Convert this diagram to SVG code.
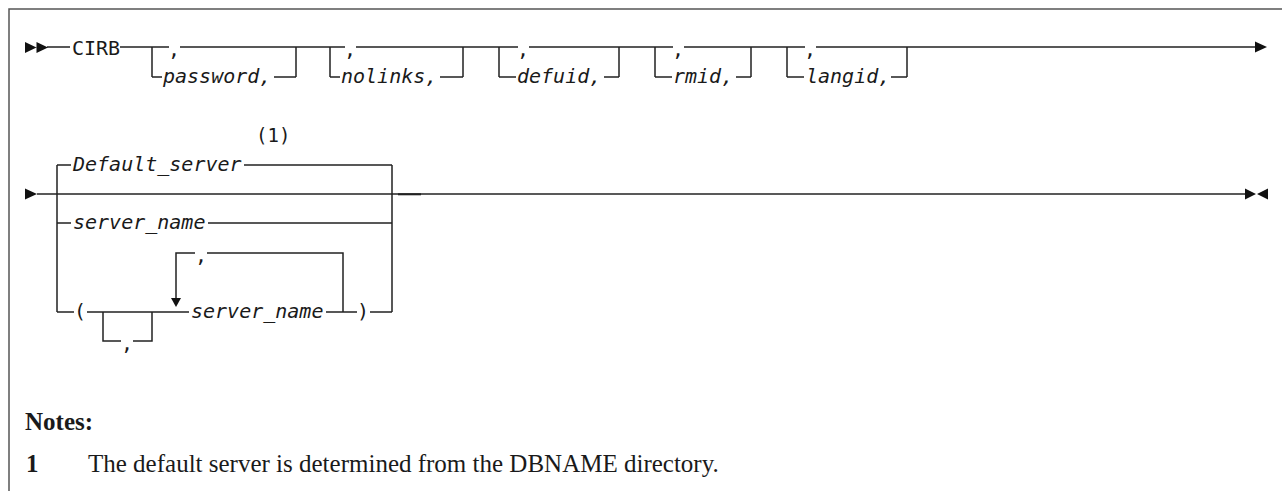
<svg xmlns="http://www.w3.org/2000/svg" width="1282" height="491" viewBox="0 0 1282 491">
<style>
.ln{stroke:#222;stroke-width:1.5;fill:none}
.fr{stroke:#555;stroke-width:1.5;fill:none}
.ah{fill:#111}
.kw{font-family:"DejaVu Sans Mono","Liberation Mono",monospace;font-size:20px;fill:#1a1a1a}
.var{font-family:"DejaVu Sans Mono","Liberation Mono",monospace;font-size:20px;font-style:italic;fill:#1a1a1a}
.note{font-family:"Liberation Serif","DejaVu Serif",serif;font-size:25px;fill:#1a1a1a}
.noteb{font-family:"Liberation Serif","DejaVu Serif",serif;font-size:25px;font-weight:bold;fill:#1a1a1a}
</style>
<rect width="1282" height="491" fill="#fff"/>
<path class="fr" d="M9,491 V9 H1282"/>

<g id="connectors">
  <path class="ln" d="M47,47H70 M120,47H169 M180,47H345 M356,47H518 M529,47H673 M684,47H805 M816,47H1256"/>
  <path class="ln" d="M152,47V77 M296,47V77 M330,47V77 M463,47V77 M499,47V77 M619,47V77 M655,47V77 M751,47V77 M787,47V77 M907,47V77"/>
  <path class="ln" d="M152,77H162 M274,77H296 M330,77H340 M440,77H463 M499,77H516 M604,77H619 M655,77H672 M736,77H751 M787,77H804 M891,77H907"/>
  <path class="ln" d="M37,194H1246"/>
  <path class="ln" d="M398,194.3H421" style="stroke-width:2"/>
  <path class="ln" d="M57,165V312 M392,165V312"/>
  <path class="ln" d="M57,165H71 M244,165H392"/>
  <path class="ln" d="M57,223H71 M208,223H392"/>
  <path class="ln" d="M57,312H74 M87,312H189 M326,312H357 M370,312H392"/>
  <path class="ln" d="M176,299V253H195 M207,253H343V312"/>
  <path class="ln" d="M103,312V341H121 M133,341H152V312"/>
</g>

<g id="start1">
  <path class="ah" d="M25,42 L36.5,47.5 L25,53 Z M36.5,42 L48,47.5 L36.5,53 Z"/>
</g>
<g id="cirb"><text class="kw" x="72" y="55">CIRB</text></g>
<g id="opt-password">
  <text class="kw" x="168" y="56">,</text>
  <text class="var" x="163" y="83">password,</text>
</g>
<g id="opt-nolinks">
  <text class="kw" x="344" y="56">,</text>
  <text class="var" x="341" y="83">nolinks,</text>
</g>
<g id="opt-defuid">
  <text class="kw" x="517" y="56">,</text>
  <text class="var" x="517" y="83">defuid,</text>
</g>
<g id="opt-rmid">
  <text class="kw" x="672" y="56">,</text>
  <text class="var" x="673" y="83">rmid,</text>
</g>
<g id="opt-langid">
  <text class="kw" x="804" y="56">,</text>
  <text class="var" x="806" y="83">langid,</text>
</g>
<g id="cont1">
  <path class="ah" d="M1255,41.5 L1267,47 L1255,52.5 Z"/>
</g>

<g id="start2">
  <path class="ah" d="M25,188.5 L37,194 L25,199.5 Z"/>
</g>
<g id="default-server">
  <text class="kw" x="256" y="142" style="font-size:19px">(1)</text>
  <text class="var" x="73" y="171">Default_server</text>
</g>
<g id="server-name"><text class="var" x="73" y="229">server_name</text></g>
<g id="server-list">
  <text class="kw" x="74" y="318">(</text>
  <text class="var" x="191" y="318">server_name</text>
  <text class="kw" x="357" y="318">)</text>
  <text class="kw" x="195" y="262">,</text>
  <path class="ah" d="M171,298 L181,298 L176,307 Z"/>
  <text class="kw" x="121" y="350">,</text>
</g>
<g id="end2">
  <path class="ah" d="M1245,188.5 L1256,194 L1245,199.5 Z M1268,188.5 L1257,194 L1268,199.5 Z"/>
</g>

<g id="notes">
  <text class="noteb" x="25" y="430">Notes:</text>
  <text class="noteb" x="26" y="472">1</text>
  <text class="note" x="88" y="472">The default server is determined from the DBNAME directory.</text>
</g>
</svg>
